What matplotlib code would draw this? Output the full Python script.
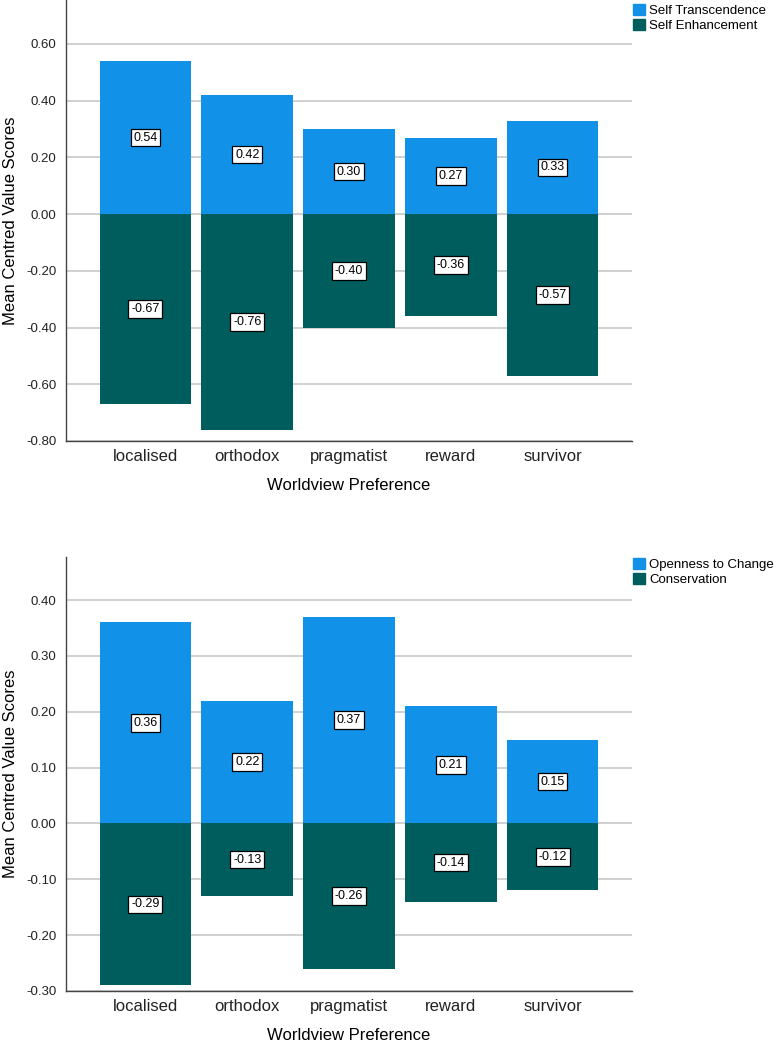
import matplotlib
matplotlib.use("Agg")
import matplotlib.pyplot as plt
import numpy as np
from matplotlib.patches import Patch

plt.rcParams['font.family'] = ['Liberation Sans', 'DejaVu Sans']

categories = ["localised", "orthodox", "pragmatist", "reward", "survivor"]
self_transcendence = [0.54, 0.42, 0.30, 0.27, 0.33]
self_enhancement = [-0.67, -0.76, -0.40, -0.36, -0.57]
openness = [0.36, 0.22, 0.37, 0.21, 0.15]
conservation = [-0.29, -0.13, -0.26, -0.14, -0.12]

top_ticks = [-0.80, -0.60, -0.40, -0.20, 0.00, 0.20, 0.40, 0.60]
bot_ticks = [-0.30, -0.20, -0.10, 0.00, 0.10, 0.20, 0.30, 0.40]

LIGHT = "#1192e8"
DARK = "#005d5d"

fig = plt.figure(figsize=(7.76, 10.5), dpi=100)
W, H = 776, 1050

def make_ax(top_px, bottom_px):
    left = 66 / W
    right = 632 / W
    return fig.add_axes([left, 1 - bottom_px / H, right - left, (bottom_px - top_px) / H])

def draw(ax, pos, neg, ticks, ylim, names, leg_y):
    x = np.arange(len(categories))
    ax.set_axisbelow(True)
    ax.yaxis.grid(True, color="#c8c8c8", linewidth=1.2)
    ax.bar(x, pos, width=0.9, color=LIGHT, zorder=2)
    ax.bar(x, neg, width=0.9, color=DARK, zorder=2)
    for xi, v in zip(x, pos):
        ax.text(xi, v / 2, f"{v:.2f}", ha="center", va="center", fontsize=9,
                bbox=dict(boxstyle="square,pad=0.22", fc="white", ec="black", lw=0.9), zorder=3)
    for xi, v in zip(x, neg):
        ax.text(xi, v / 2, f"{v:.2f}", ha="center", va="center", fontsize=9,
                bbox=dict(boxstyle="square,pad=0.22", fc="white", ec="black", lw=0.9), zorder=3)
    ax.set_xlim(-0.78, 4.78)
    ax.set_ylim(*ylim)
    ax.set_yticks(ticks)
    ax.set_yticklabels([f"{t:.2f}" for t in ticks], fontsize=9.5)
    ax.set_xticks(x)
    ax.set_xticklabels(categories, fontsize=12)
    ax.tick_params(axis="both", length=0, pad=7, colors="#222222")
    ax.tick_params(axis="x", pad=6)
    for s in ["top", "right"]:
        ax.spines[s].set_visible(False)
    for s in ["left", "bottom"]:
        ax.spines[s].set_color("#444444")
        ax.spines[s].set_linewidth(1.0)
    ax.set_ylabel("Mean Centred Value Scores", fontsize=12, labelpad=6)
    ax.set_xlabel("Worldview Preference", fontsize=12, labelpad=10)
    handles = [Patch(color=LIGHT, label=names[0]), Patch(color=DARK, label=names[1])]
    ax.legend(handles=handles, loc="upper left", bbox_to_anchor=(1.0, leg_y), frameon=False,
              fontsize=9.5, handlelength=0.9, handleheight=0.9, handletextpad=0.3,
              labelspacing=0.15, borderaxespad=0.1, borderpad=0.0)

ax1 = make_ax(0, 441)
draw(ax1, self_transcendence, self_enhancement, top_ticks, (-0.80, 0.755),
     ["Self Transcendence", "Self Enhancement"], 1.0 - 3 / 441)

ax2 = make_ax(557, 991)
draw(ax2, openness, conservation, bot_ticks, (-0.30, 0.477),
     ["Openness to Change", "Conservation"], 1.0)

fig.savefig("out.png", dpi=100)
